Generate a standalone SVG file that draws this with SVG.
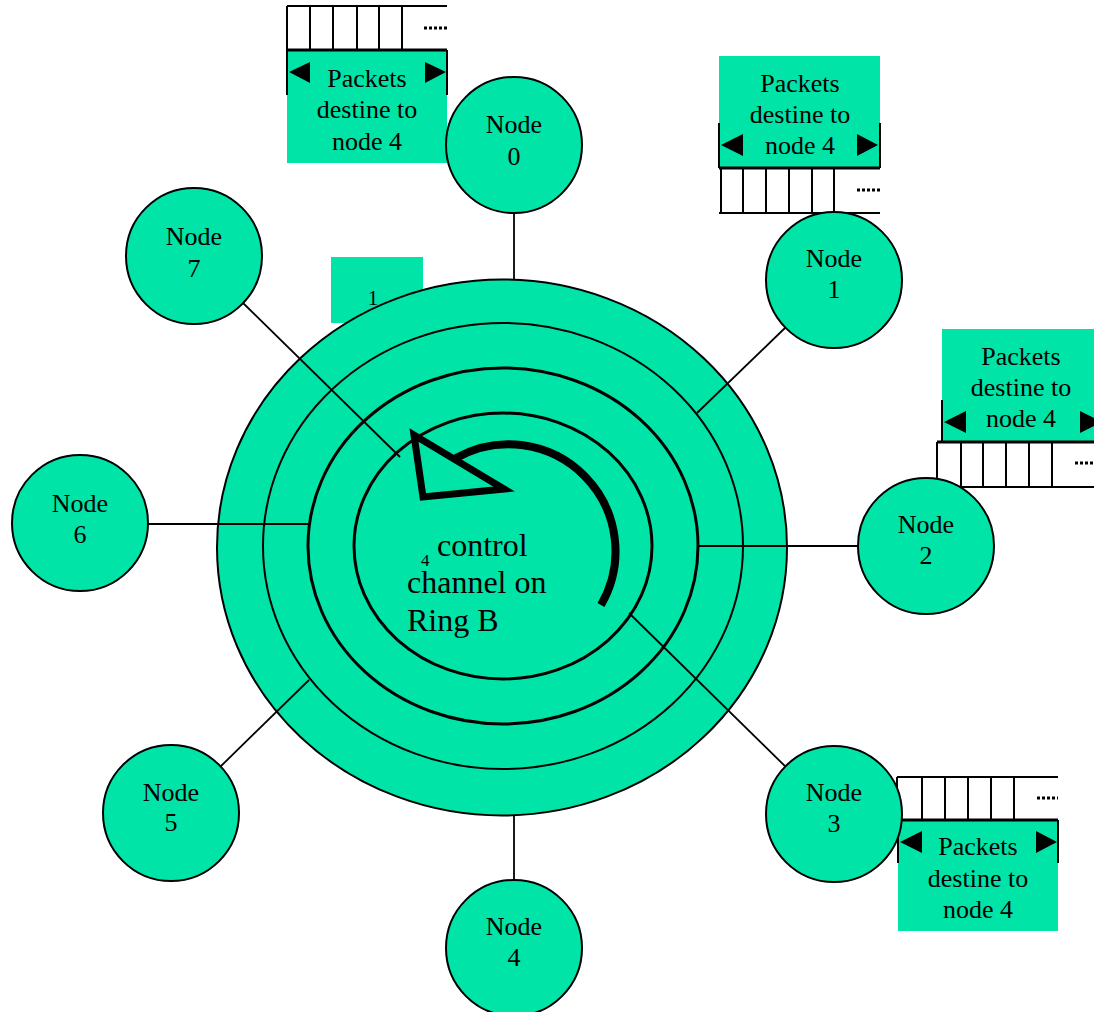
<svg xmlns="http://www.w3.org/2000/svg" width="1094" height="1012" viewBox="0 0 1094 1012">
  <style>
    .g { fill: #00E4A8; }
    .node circle { fill: #00E4A8; stroke: #000; stroke-width: 2; }
    .lbl { font-family: "Liberation Serif", "Times New Roman", serif; font-size: 26px; fill: #000; text-anchor: middle; }
    .ring { fill: #00E4A8; stroke: #000; }
    .wire { stroke: #000; stroke-width: 1.8; fill: none; }
    .q { fill: #fff; stroke: #000; stroke-width: 2; }
    .qline { stroke: #000; stroke-width: 3; }
    .tick { stroke: #000; stroke-width: 2; }
    .dots { stroke: #000; stroke-width: 3; stroke-dasharray: 3 2; }
    .ah { fill: #000; }
  </style>

  <!-- small label box behind the ring -->
  <rect class="g" x="331" y="257" width="92" height="66"/>

  <!-- concentric ring system -->
  <g id="rings">
    <ellipse class="ring" cx="502" cy="547.5" rx="285" ry="268" stroke-width="2"/>
    <ellipse class="ring" cx="503" cy="546" rx="240" ry="223" stroke-width="2"/>
    <ellipse class="ring" cx="503" cy="546" rx="195" ry="178" stroke-width="3"/>
    <ellipse class="ring" cx="503" cy="546" rx="149" ry="133" stroke-width="3"/>
  </g>

  <text x="373" y="305" font-family="Liberation Serif, serif" font-size="21" text-anchor="middle">1</text>

  <!-- rotation arrow of the control channel -->
  <g id="control-arrow">
    <path d="M 601 605 A 107 107 0 0 0 456 458" fill="none" stroke="#000" stroke-width="8"/>
    <polygon points="414,435 423,497 504,489" fill="none" stroke="#000" stroke-width="7" stroke-linejoin="miter"/>
  </g>

  <g id="center-label" font-family="Liberation Serif, 'Times New Roman', serif" fill="#000">
    <text x="421" y="566" font-size="17">4</text>
    <text x="437" y="556" font-size="32">control</text>
    <text x="407" y="593" font-size="32">channel on</text>
    <text x="407" y="631" font-size="32">Ring B</text>
  </g>

  <!-- links from nodes to the rings -->
  <g id="connectors">
    <line class="wire" x1="514" y1="212" x2="514" y2="280"/>
    <line class="wire" x1="786" y1="327" x2="697" y2="413"/>
    <line class="wire" x1="858" y1="546" x2="697" y2="546"/>
    <line class="wire" x1="789" y1="770" x2="629" y2="613"/>
    <line class="wire" x1="514" y1="815" x2="514" y2="880"/>
    <line class="wire" x1="220" y1="767" x2="309" y2="680"/>
    <line class="wire" x1="148" y1="524" x2="308" y2="524"/>
    <line class="wire" x1="240" y1="300" x2="400" y2="457"/>
  </g>

  <!-- packet queue next to node 0 -->
  <g id="queue-0">
    <rect class="g" x="287" y="50" width="160" height="113"/>
    <line class="q" x1="287" y1="6" x2="447" y2="6"/>
    <g class="tick">
      <line x1="287" y1="6" x2="287" y2="50"/>
      <line x1="310" y1="6" x2="310" y2="50"/>
      <line x1="333" y1="6" x2="333" y2="50"/>
      <line x1="357" y1="6" x2="357" y2="50"/>
      <line x1="379" y1="6" x2="379" y2="50"/>
      <line x1="402" y1="6" x2="402" y2="50"/>
      <line x1="287" y1="50" x2="287" y2="95"/>
      <line x1="447" y1="50" x2="447" y2="95"/>
    </g>
    <line class="dots" x1="424" y1="28" x2="447" y2="28"/>
    <line class="qline" x1="287" y1="50" x2="447" y2="50"/>
    <polygon class="ah" points="289,72 310,62 310,83"/>
    <polygon class="ah" points="446,72 425,62 425,83"/>
    <text class="lbl" x="367" y="87">Packets</text>
    <text class="lbl" x="367" y="118">destine to</text>
    <text class="lbl" x="367" y="150">node 4</text>
  </g>

  <!-- packet queue next to node 1 -->
  <g id="queue-1">
    <rect class="g" x="719" y="56" width="161" height="112"/>
    <g class="tick">
      <line x1="719" y1="123" x2="719" y2="168"/>
      <line x1="880" y1="123" x2="880" y2="168"/>
      <line x1="721" y1="168" x2="721" y2="213"/>
      <line x1="743" y1="168" x2="743" y2="213"/>
      <line x1="766" y1="168" x2="766" y2="213"/>
      <line x1="789" y1="168" x2="789" y2="213"/>
      <line x1="812" y1="168" x2="812" y2="213"/>
      <line x1="834" y1="168" x2="834" y2="213"/>
    </g>
    <line class="q" x1="719" y1="213" x2="880" y2="213"/>
    <line class="dots" x1="857" y1="190" x2="880" y2="190"/>
    <line class="qline" x1="719" y1="168" x2="880" y2="168"/>
    <polygon class="ah" points="721,145 743,134 743,156"/>
    <polygon class="ah" points="878,145 857,134 857,156"/>
    <text class="lbl" x="800" y="92">Packets</text>
    <text class="lbl" x="800" y="123">destine to</text>
    <text class="lbl" x="800" y="154">node 4</text>
  </g>

  <!-- packet queue next to node 2 -->
  <g id="queue-2">
    <rect class="g" x="942" y="329" width="152" height="113"/>
    <g class="tick">
      <line x1="942" y1="400" x2="942" y2="442"/>
      <line x1="937" y1="442" x2="937" y2="487"/>
      <line x1="961" y1="442" x2="961" y2="487"/>
      <line x1="983" y1="442" x2="983" y2="487"/>
      <line x1="1006" y1="442" x2="1006" y2="487"/>
      <line x1="1029" y1="442" x2="1029" y2="487"/>
      <line x1="1052" y1="442" x2="1052" y2="487"/>
    </g>
    <line class="q" x1="937" y1="487" x2="1094" y2="487"/>
    <line class="dots" x1="1075" y1="463" x2="1094" y2="463"/>
    <line class="qline" x1="937" y1="442" x2="1094" y2="442"/>
    <polygon class="ah" points="944,422 966,411 966,433"/>
    <polygon class="ah" points="1102,422 1080,411 1080,433"/>
    <text class="lbl" x="1021" y="365">Packets</text>
    <text class="lbl" x="1021" y="396">destine to</text>
    <text class="lbl" x="1021" y="427">node 4</text>
  </g>

  <!-- packet queue next to node 3 -->
  <g id="queue-3">
    <rect class="g" x="898" y="820" width="160" height="111"/>
    <line class="q" x1="897" y1="777" x2="1058" y2="777"/>
    <g class="tick">
      <line x1="897" y1="777" x2="897" y2="820"/>
      <line x1="922" y1="777" x2="922" y2="820"/>
      <line x1="945" y1="777" x2="945" y2="820"/>
      <line x1="968" y1="777" x2="968" y2="820"/>
      <line x1="991" y1="777" x2="991" y2="820"/>
      <line x1="1014" y1="777" x2="1014" y2="820"/>
      <line x1="898" y1="820" x2="898" y2="863"/>
      <line x1="1058" y1="820" x2="1058" y2="863"/>
    </g>
    <line class="dots" x1="1037" y1="798" x2="1058" y2="798"/>
    <line class="qline" x1="897" y1="820" x2="1058" y2="820"/>
    <polygon class="ah" points="900,842 922,831 922,853"/>
    <polygon class="ah" points="1057,842 1036,831 1036,853"/>
    <text class="lbl" x="978" y="855">Packets</text>
    <text class="lbl" x="978" y="887">destine to</text>
    <text class="lbl" x="978" y="918">node 4</text>
  </g>

  <!-- nodes -->
  <g id="node-0" class="node"><circle cx="514" cy="145" r="68"/><text class="lbl" x="514" y="133">Node</text><text class="lbl" x="514" y="165">0</text></g>
  <g id="node-1" class="node"><circle cx="834" cy="280" r="68"/><text class="lbl" x="834" y="267">Node</text><text class="lbl" x="834" y="298">1</text></g>
  <g id="node-2" class="node"><circle cx="926" cy="546" r="68"/><text class="lbl" x="926" y="533">Node</text><text class="lbl" x="926" y="564">2</text></g>
  <g id="node-3" class="node"><circle cx="834" cy="814" r="68"/><text class="lbl" x="834" y="801">Node</text><text class="lbl" x="834" y="832">3</text></g>
  <g id="node-4" class="node"><circle cx="514" cy="948" r="68"/><text class="lbl" x="514" y="935">Node</text><text class="lbl" x="514" y="966">4</text></g>
  <g id="node-5" class="node"><circle cx="171" cy="813" r="68"/><text class="lbl" x="171" y="801">Node</text><text class="lbl" x="171" y="831">5</text></g>
  <g id="node-6" class="node"><circle cx="80" cy="523" r="68"/><text class="lbl" x="80" y="512">Node</text><text class="lbl" x="80" y="543">6</text></g>
  <g id="node-7" class="node"><circle cx="194" cy="256" r="68"/><text class="lbl" x="194" y="245">Node</text><text class="lbl" x="194" y="277">7</text></g>
</svg>
